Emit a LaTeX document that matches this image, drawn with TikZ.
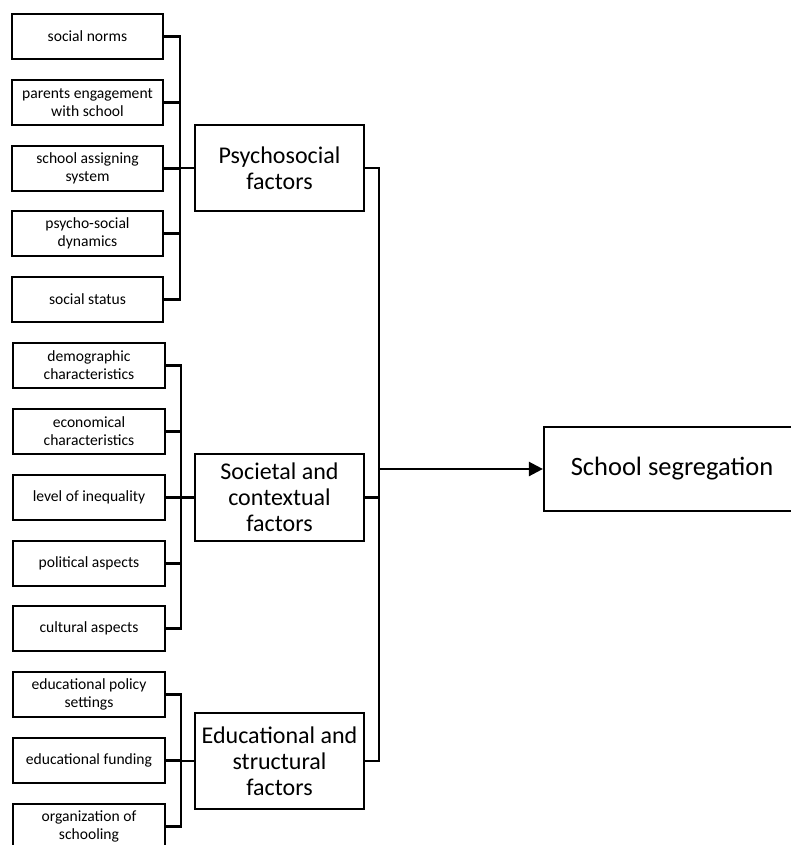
\documentclass[tikz,border=0pt]{standalone}
\usepackage{fontspec}
\setmainfont{Carlito}
\usetikzlibrary{arrows.meta}
\begin{document}
\begin{tikzpicture}[x=1pt,y=-1pt,
  line width=2.2pt,
  small/.style={draw, rectangle, align=center, inner sep=0pt,
    minimum height=45pt, font=\fontsize{15.6}{18}\selectfont},
  g1/.style={small, minimum width=151pt},
  g2/.style={small, minimum width=152pt},
  mid/.style={draw, rectangle, align=center, inner sep=0pt,
    minimum width=169pt, font=\fontsize{24}{26}\selectfont},
  big/.style={draw, rectangle, align=center, inner sep=0pt,
    minimum width=256pt, minimum height=84pt, font=\fontsize{26.5}{28}\selectfont},
  conn/.style={line width=2.2pt},
  arr/.style={line width=2.4pt, -{Triangle[length=14pt,width=14pt]}}]
\useasboundingbox (0,0) rectangle (791,845);
\clip (0,0) rectangle (791,845);
% group 1
\node[g1] (a1) at (87.5,36.5) {social norms};
\node[g1] (a2) at (87.5,102.5) {parents engagement\\with school};
\node[g1] (a3) at (87.5,168.5) {school assigning\\system};
\node[g1] (a4) at (87.5,233.5) {psycho-social\\dynamics};
\node[g1] (a5) at (87.5,299.5) {social status};
% group 2
\node[g2] (b1) at (89,365.5) {demographic\\characteristics};
\node[g2] (b2) at (89,431.5) {economical\\characteristics};
\node[g2] (b3) at (89,497.5) {level of inequality};
\node[g2] (b4) at (89,563.5) {political aspects};
\node[g2] (b5) at (89,628.5) {cultural aspects};
% group 3
\node[g2] (c1) at (89,694.5) {educational policy\\settings};
\node[g2] (c2) at (89,760.5) {educational funding};
\node[g2] (c3) at (89,826.5) {organization of\\schooling};
% middle
\node[mid, minimum height=86pt] (psy) at (279.5,168) {Psychosocial\\factors};
\node[mid, minimum height=87pt] (soc) at (279.5,497.5) {Societal and\\contextual\\factors};
\node[mid, minimum height=96pt] (edu) at (279.5,761) {Educational and\\structural\\factors};
% target
\node[big] (seg) at (672,469) {School segregation};
% bus coordinates
\coordinate (ba) at (180,0);
\coordinate (bb) at (181,0);
\coordinate (bc) at (181,0);
\coordinate (m) at (379,0);
% group 1 connectors
\draw[conn] (a1.east) -| (ba |- a5.east) -- (a5.east);
\foreach \n in {a2,a3,a4} \draw[conn] (\n.east) -- (\n.east -| ba);
\draw[conn] (ba |- psy.west) -- (psy.west);
% group 2 connectors
\draw[conn] (b1.east) -| (bb |- b5.east) -- (b5.east);
\foreach \n in {b2,b3,b4} \draw[conn] (\n.east) -- (\n.east -| bb);
\draw[conn] (bb |- soc.west) -- (soc.west);
% group 3 connectors
\draw[conn] (c1.east) -| (bc |- c3.east) -- (c3.east);
\draw[conn] (c2.east) -- (c2.east -| bc);
\draw[conn] (bc |- edu.west) -- (edu.west);
% main bus
\draw[conn] (psy.east) -| (m |- edu.east) -- (edu.east);
\draw[conn] (soc.east) -- (soc.east -| m);
\draw[arr] (m |- seg.west) -- (seg.west);
\end{tikzpicture}
\end{document}
